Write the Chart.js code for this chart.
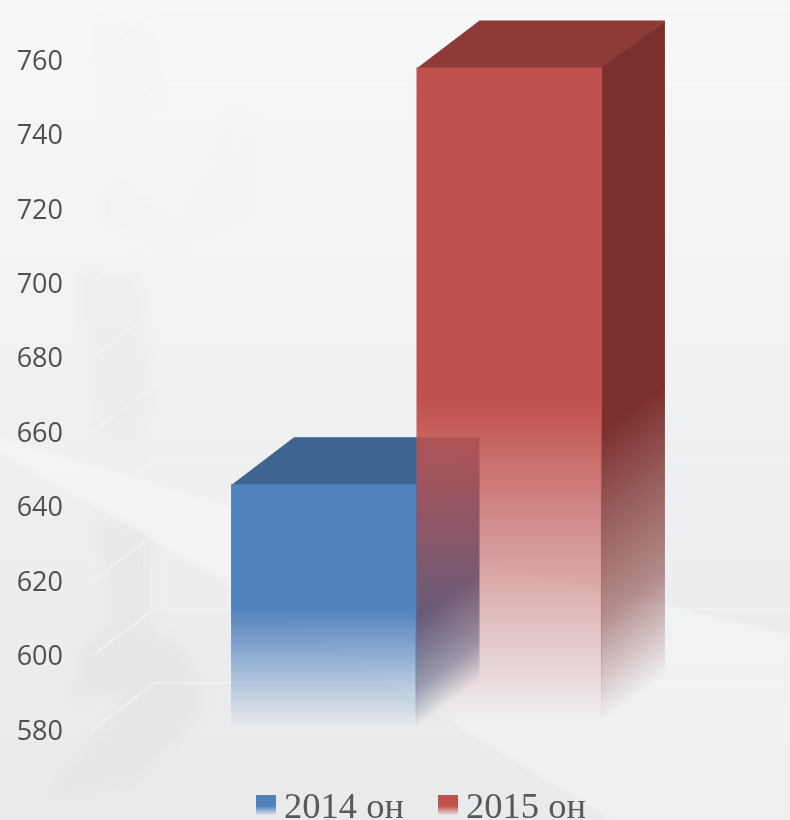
<!DOCTYPE html>
<html>
<head>
<meta charset="utf-8">
<title>2014-2015</title>
<script src="https://cdn.jsdelivr.net/npm/chart.js@4"></script>
<style>
  html, body { margin: 0; padding: 0; background: #eeeff1; }
  #wrap { width: 790px; height: 820px; overflow: hidden; }
</style>
</head>
<body>
<div id="wrap"><canvas id="canvasYear" width="790" height="820"></canvas></div>
<script>
var categories = [''];
var seriesNames = ['2014 он', '2015 он'];
var values2014 = [646];
var values2015 = [758];
var yMin = 580;
var yMax = 760;
var yStep = 20;

// depth of the fake 3d box
var depthX = 63;
var depthY = 47;

function rgba(c, a) {
  return 'rgba(' + c[0] + ',' + c[1] + ',' + c[2] + ',' + a + ')';
}

var frontColors = [[79, 129, 189], [192, 80, 77]];
var sideColors = [[60, 97, 142], [124, 48, 46]];
var topColors = ['#3e6491', '#8e3a38'];

function fade(ctx, top, bottom, c) {
  var g = ctx.createLinearGradient(0, top, 0, bottom);
  g.addColorStop(0, rgba(c, 1));
  g.addColorStop(0.5, rgba(c, 1));
  g.addColorStop(0.99, rgba(c, 0));
  return g;
}

// the side faces keep their colour longer than the fronts
function sideFade(ctx, top, bottom, c) {
  var g = ctx.createLinearGradient(0, top, 0, bottom);
  g.addColorStop(0, rgba(c, 1));
  g.addColorStop(0.55, rgba(c, 1));
  g.addColorStop(0.68, rgba(c, 0.77));
  g.addColorStop(0.83, rgba(c, 0.52));
  g.addColorStop(0.99, rgba(c, 0));
  return g;
}

function blob(ctx, pts, color) {
  ctx.fillStyle = color;
  ctx.beginPath();
  pts.forEach(function (p, i) {
    if (i == 0) ctx.moveTo(p[0], p[1]); else ctx.lineTo(p[0], p[1]);
  });
  ctx.closePath();
  ctx.fill();
}

var backdrop = {
  id: 'backdrop',
  beforeDraw: function (chart) {
    var ctx = chart.ctx;
    var w = chart.width, h = chart.height;
    ctx.save();
    var g = ctx.createLinearGradient(0, 0, 0, h);
    g.addColorStop(0, '#f8f8f8');
    g.addColorStop(0.5, '#eff0f2');
    g.addColorStop(1, '#e9eaec');
    ctx.fillStyle = g;
    ctx.fillRect(0, 0, w, h);

    // faint watermark shapes
    ctx.filter = 'blur(7px)';
    var pink = 'rgba(225,215,215,0.28)';
    blob(ctx, [[95, 520], [150, 530], [150, 625], [185, 650], [205, 700], [180, 735], [135, 780], [50, 795], [110, 725], [125, 690], [75, 700], [80, 650], [115, 620]], pink);
    blob(ctx, [[75, 270], [140, 275], [150, 400], [135, 440], [100, 430], [90, 350]], 'rgba(225,215,215,0.16)');
    blob(ctx, [[110, 170], [180, 230], [235, 110], [255, 130], [250, 215], [170, 240], [100, 220]], 'rgba(235,230,230,0.1)');
    blob(ctx, [[90, 20], [155, 30], [160, 100], [105, 110]], 'rgba(235,232,232,0.14)');
    ctx.filter = 'blur(2px)';
    // light sweep across the lower half
    blob(ctx, [[0, 438], [230, 505], [790, 635], [790, 820], [610, 820], [230, 585], [0, 452]], 'rgba(248,249,250,0.4)');
    ctx.filter = 'none';

    // back wall grid with the diagonal going to the axis
    var y = chart.scales.y;
    var left = chart.chartArea.left;
    ctx.strokeStyle = '#f2f3f4';
    ctx.lineWidth = 1.5;
    y.ticks.forEach(function (t) {
      var py = y.getPixelForValue(t.value);
      ctx.beginPath();
      ctx.moveTo(left + 2, py);
      ctx.lineTo(left + 2 + depthX, py - depthY);
      ctx.lineTo(w, py - depthY);
      ctx.stroke();
    });
    ctx.restore();
  }
};

// the boxes have to go left to right so the red front lies over the blue side,
// chart.js would do it the other way round
var boxFaces = {
  id: 'boxFaces',
  beforeDatasetsDraw: function (chart) {
    var ctx = chart.ctx;
    chart.data.datasets.forEach(function (ds, i) {
      var meta = chart.getDatasetMeta(i);
      var bar = meta.data[0];
      var right = bar.x + bar.width / 2;
      var left = bar.x - bar.width / 2;
      var top = bar.y;
      var bottom = bar.base;
      ctx.save();
      ctx.fillStyle = topColors[i];
      ctx.beginPath();
      ctx.moveTo(left, top + 1);
      ctx.lineTo(left + depthX, top - depthY);
      ctx.lineTo(right + depthX, top - depthY);
      ctx.lineTo(right, top + 1);
      ctx.closePath();
      ctx.fill();
      ctx.transform(1, -depthY / depthX, 0, 1, right, 0);
      ctx.fillStyle = sideFade(ctx, top, bottom, sideColors[i]);
      ctx.fillRect(-1, top, depthX + 1, bottom - top);
      ctx.restore();
      meta.controller.draw();
    });
  },
  beforeDatasetDraw: function () {
    return false;
  }
};

var boxLegend = {
  id: 'boxLegend',
  afterDraw: function (chart) {
    var ctx = chart.ctx;
    var starts = [256, 438];
    ctx.save();
    ctx.font = '36.5px "Liberation Serif"';
    ctx.textBaseline = 'alphabetic';
    chart.data.datasets.forEach(function (ds, i) {
      var g = ctx.createLinearGradient(0, 795, 0, 815);
      g.addColorStop(0, rgba(frontColors[i], 1));
      g.addColorStop(0.55, rgba(frontColors[i], 1));
      g.addColorStop(1, rgba(frontColors[i], 0.05));
      ctx.fillStyle = g;
      ctx.fillRect(starts[i], 795, 20, 20);
      ctx.fillStyle = '#595959';
      ctx.fillText(ds.label, starts[i] + 28, 818);
    });
    ctx.restore();
  }
};

function frontFill(i) {
  return function (context) {
    var chart = context.chart;
    if (!chart.chartArea) return rgba(frontColors[i], 1);
    var y = chart.scales.y;
    return fade(chart.ctx, y.getPixelForValue(context.raw), y.getPixelForValue(yMin), frontColors[i]);
  };
}

var ctx = document.getElementById('canvasYear');
new Chart(ctx, {
  type: 'bar',
  data: {
    labels: categories,
    datasets: [
      { label: seriesNames[0], data: values2014, base: yMin, backgroundColor: frontFill(0), borderWidth: 0 },
      { label: seriesNames[1], data: values2015, base: yMin, backgroundColor: frontFill(1), borderWidth: 0 }
    ]
  },
  options: {
    responsive: false,
    animation: false,
    layout: { padding: { top: 60, bottom: 90, right: 47, left: 0 } },
    plugins: { legend: { display: false }, tooltip: { enabled: false } },
    datasets: { bar: { barPercentage: 1, categoryPercentage: 0.568 } },
    scales: {
      x: { display: false },
      y: {
        min: yMin,
        max: yMax,
        afterFit: function (s) { s.width = 90; },
        border: { display: false },
        grid: { display: false, drawTicks: false },
        ticks: {
          stepSize: yStep,
          padding: 27,
          labelOffset: 2,
          color: '#505050',
          font: { family: '"Open Sans"', size: 27 }
        }
      }
    }
  },
  plugins: [backdrop, boxFaces, boxLegend]
});
</script>
</body>
</html>
